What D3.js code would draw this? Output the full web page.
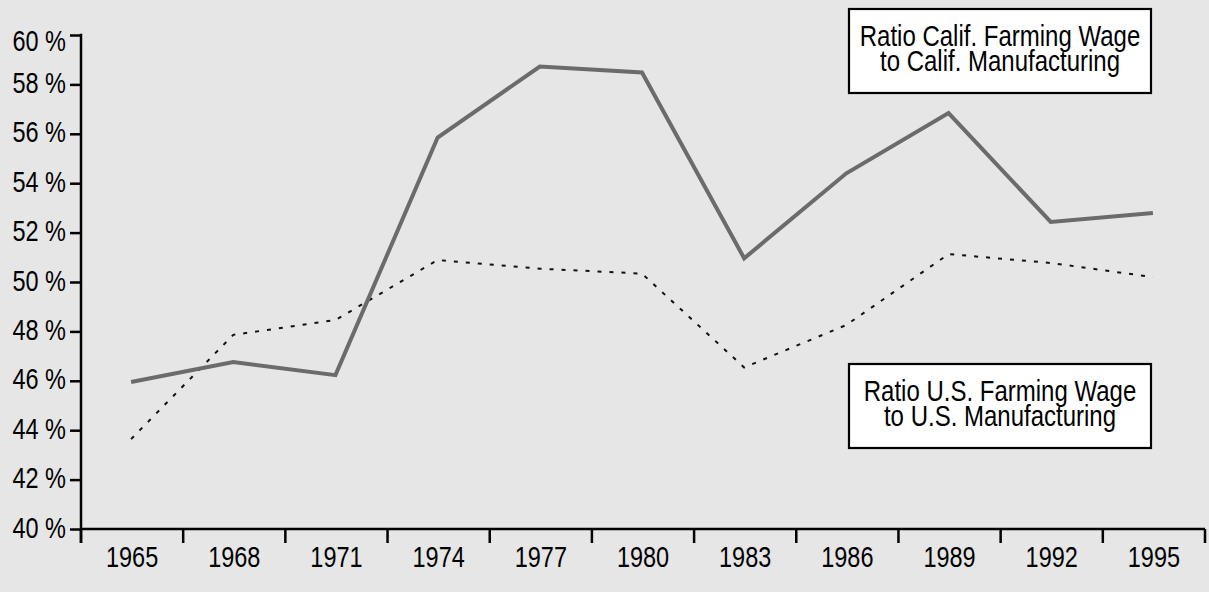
<!DOCTYPE html>
<html>
<head>
<meta charset="utf-8">
<script src="https://cdn.jsdelivr.net/npm/d3@7"></script>
<style>
  html, body { margin: 0; padding: 0; background: #e6e6e6; }
  svg { display: block; }
  text { font-family: "Liberation Sans", Arial, sans-serif; fill: #000; }
</style>
</head>
<body>
<svg id="chart" width="1209" height="592"></svg>
<script>
const years = ["1965","1968","1971","1974","1977","1980","1983","1986","1989","1992","1995"];
const califRatio = [45.95, 46.76, 46.23, 55.85, 58.72, 58.48, 50.96, 54.40, 56.84, 52.43, 52.79];
const usRatio = [43.64, 47.86, 48.46, 50.89, 50.54, 50.34, 46.54, 48.26, 51.13, 50.77, 50.20];
const yTicks = [40, 42, 44, 46, 48, 50, 52, 54, 56, 58, 60];
const califLabel = ["Ratio Calif. Farming Wage", "to Calif. Manufacturing"];
const usLabel = ["Ratio U.S. Farming Wage", "to U.S. Manufacturing"];

const svg = d3.select("#chart");
const W = 1209, H = 592;
svg.append("rect").attr("width", W).attr("height", H).attr("fill", "#e6e6e6");

const x = d3.scaleBand().domain(years).range([81, 1205]).paddingInner(0).paddingOuter(0);
const y = d3.scaleLinear().domain([40, 60]).range([529, 35]);
const SY = 1.22;

// lines
const line = d3.line().x((d, i) => x(years[i]) + x.bandwidth() / 2 - 1).y(d => y(d));
svg.append("path").datum(usRatio).attr("d", line)
  .attr("fill", "none").attr("stroke", "#111").attr("stroke-width", 2)
  .attr("stroke-dasharray", "4,8");
svg.append("path").datum(califRatio).attr("d", line)
  .attr("fill", "none").attr("stroke", "#6b6b6b").attr("stroke-width", 4)
  .attr("stroke-linejoin", "miter");

// y axis
const yAxis = d3.axisLeft(y).tickValues(yTicks).tickSize(11).tickFormat("");
const gy = svg.append("g").attr("transform", "translate(81,0)").call(yAxis);
gy.select(".domain").remove();
gy.selectAll(".tick line").attr("stroke", "#000").attr("stroke-width", 2.5);
svg.append("line").attr("x1", 81).attr("x2", 81).attr("y1", y(60) - 1.25).attr("y2", 543)
  .attr("stroke", "#000").attr("stroke-width", 2.5);
yTicks.forEach(v => {
  const ly = Math.max(y(v), 42);
  svg.append("g").attr("transform", `translate(66,${ly + 8.5}) scale(1,${SY})`)
    .append("text").attr("text-anchor", "end").attr("font-size", 23.5).text(v + " %");
});

// x axis
const xTickPos = x.domain().map(d => x(d)).concat([x.range()[1]]);
svg.append("line").attr("x1", 81).attr("x2", 1205).attr("y1", y(40)).attr("y2", y(40))
  .attr("stroke", "#000").attr("stroke-width", 2.5);
svg.selectAll(".xtick").data(xTickPos).enter().append("line")
  .attr("x1", d => d).attr("x2", d => d).attr("y1", y(40)).attr("y2", 543)
  .attr("stroke", "#000").attr("stroke-width", 2.5);
years.forEach(yr => {
  svg.append("g").attr("transform", `translate(${x(yr) + x.bandwidth() / 2},567) scale(1,${SY})`)
    .append("text").attr("text-anchor", "middle").attr("font-size", 23.5).text(yr);
});

// legend boxes
function box(lines, top) {
  svg.append("rect").attr("x", 849).attr("y", top).attr("width", 302).attr("height", 84)
    .attr("fill", "#fff").attr("stroke", "#000").attr("stroke-width", 2.2);
  const t = svg.append("g").attr("transform", `translate(1000,${top + 37}) scale(1,${SY})`)
    .append("text").attr("text-anchor", "middle").attr("font-size", 24);
  lines.forEach((s, i) => {
    t.append("tspan").attr("x", 0).attr("dy", i === 0 ? 0 : 25 / SY).text(s);
  });
}
box(califLabel, 9);
box(usLabel, 364);
</script>
</body>
</html>
